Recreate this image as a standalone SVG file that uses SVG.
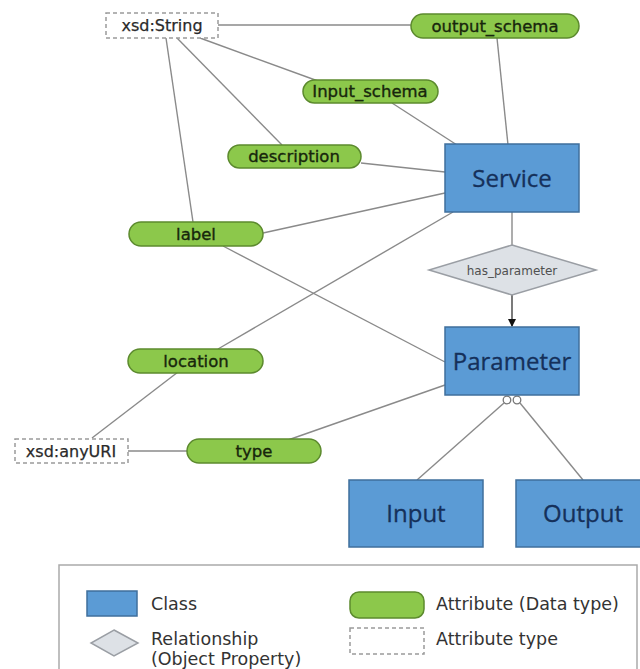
<svg xmlns="http://www.w3.org/2000/svg" width="640" height="669" viewBox="0 0 640 669">
  <defs>
    <style>
      .edge { stroke: #8a8a8a; stroke-width: 1.4; fill: none; }
      .cls rect { fill: #5b9bd5; stroke: #3f6f9c; stroke-width: 1.5; }
      .cls text { font-family: "Open Sans", "Noto Sans", sans-serif; font-size: 24px; fill: #15305a; stroke: #15305a; stroke-width: 0.3; text-anchor: middle; }
      .attr rect { fill: #8cc84b; stroke: #5c8a2e; stroke-width: 1.5; }
      .attr text { font-family: "DejaVu Sans", sans-serif; font-size: 16.5px; fill: #17260c; stroke: #17260c; stroke-width: 0.35; text-anchor: middle; }
      .dtype rect { fill: #ffffff; stroke: #9a9a9a; stroke-width: 1.5; stroke-dasharray: 4 3; }
      .dtype text { font-family: "DejaVu Sans", sans-serif; font-size: 16px; fill: #2a2a2a; stroke: #2a2a2a; stroke-width: 0.25; text-anchor: middle; }
      .rel polygon { fill: #dde1e6; stroke: #9a9ea4; stroke-width: 1.5; }
      .rel text { font-family: "DejaVu Sans", sans-serif; font-size: 12px; fill: #505050; text-anchor: middle; }
      .legend text { font-family: "DejaVu Sans", sans-serif; font-size: 17.5px; fill: #333333; }
    </style>
    <marker id="arrow" markerWidth="8" markerHeight="8" refX="7" refY="4" orient="auto" markerUnits="userSpaceOnUse">
      <path d="M0,0 L8,4 L0,8 Z" fill="#111111"/>
    </marker>
  </defs>

  <rect width="640" height="669" fill="#ffffff"/>

  <!-- connectors -->
  <g id="connectors">
    <line class="edge" x1="218" y1="25" x2="411" y2="25"/>
    <line class="edge" x1="200" y1="38" x2="318" y2="81"/>
    <line class="edge" x1="177" y1="38" x2="282" y2="145"/>
    <line class="edge" x1="166" y1="38" x2="193" y2="222"/>
    <line class="edge" x1="497" y1="38" x2="508" y2="145"/>
    <line class="edge" x1="392" y1="103" x2="457" y2="145"/>
    <line class="edge" x1="361" y1="163" x2="445" y2="172"/>
    <line class="edge" x1="263" y1="233" x2="445" y2="193"/>
    <line class="edge" x1="453" y1="212" x2="218" y2="349"/>
    <line class="edge" x1="223" y1="246" x2="445" y2="362"/>
    <line class="edge" x1="178" y1="372" x2="92" y2="438"/>
    <line class="edge" x1="128" y1="451" x2="187" y2="451"/>
    <line class="edge" x1="288" y1="440" x2="445" y2="385"/>
    <line class="edge" x1="512" y1="212" x2="512" y2="245"/>
    <line x1="512" y1="295" x2="512" y2="326" stroke="#222222" stroke-width="1.2" marker-end="url(#arrow)"/>
    <line class="edge" x1="504" y1="403" x2="417" y2="480"/>
    <line class="edge" x1="520" y1="403" x2="583" y2="480"/>
    <circle cx="507" cy="400" r="3.8" fill="#ffffff" stroke="#777777" stroke-width="1.3"/>
    <circle cx="517" cy="400" r="3.8" fill="#ffffff" stroke="#777777" stroke-width="1.3"/>
  </g>

  <!-- data types -->
  <g id="xsd-string" class="dtype">
    <rect x="106" y="13" width="112" height="25"/>
    <text x="162" y="31">xsd:String</text>
  </g>
  <g id="xsd-anyuri" class="dtype">
    <rect x="15" y="439" width="113" height="24"/>
    <text x="71" y="457">xsd:anyURI</text>
  </g>

  <!-- attributes -->
  <g id="output-schema" class="attr">
    <rect x="411" y="14" width="168" height="24" rx="12"/>
    <text x="495" y="32">output_schema</text>
  </g>
  <g id="input-schema" class="attr">
    <rect x="303" y="80" width="135" height="23" rx="11.5"/>
    <text x="370" y="97">Input_schema</text>
  </g>
  <g id="description" class="attr">
    <rect x="228" y="145" width="133" height="23" rx="11.5"/>
    <text x="294" y="162">description</text>
  </g>
  <g id="label" class="attr">
    <rect x="129" y="222" width="134" height="24" rx="12"/>
    <text x="196" y="240">label</text>
  </g>
  <g id="location" class="attr">
    <rect x="128" y="349" width="135" height="24" rx="12"/>
    <text x="196" y="367">location</text>
  </g>
  <g id="type" class="attr">
    <rect x="187" y="439" width="134" height="24" rx="12"/>
    <text x="254" y="457">type</text>
  </g>

  <!-- classes -->
  <g id="service" class="cls">
    <rect x="445" y="144" width="134" height="68"/>
    <text x="512" y="187">Service</text>
  </g>
  <g id="parameter" class="cls">
    <rect x="445" y="327" width="134" height="68"/>
    <text x="512" y="370">Parameter</text>
  </g>
  <g id="input" class="cls">
    <rect x="349" y="480" width="134" height="67"/>
    <text x="416" y="522">Input</text>
  </g>
  <g id="output" class="cls">
    <rect x="516" y="480" width="134" height="67"/>
    <text x="583" y="522">Output</text>
  </g>

  <!-- relationship -->
  <g id="has-parameter" class="rel">
    <polygon points="512,245 596,270 512,295 429,270"/>
    <text x="512" y="275">has_parameter</text>
  </g>

  <!-- legend -->
  <g id="legend" class="legend">
    <rect x="59" y="565" width="578" height="110" fill="#ffffff" stroke="#aaaaaa" stroke-width="1.5"/>
    <rect x="87" y="591" width="50" height="25" fill="#5b9bd5" stroke="#3f6f9c" stroke-width="1.5"/>
    <text x="151" y="610">Class</text>
    <polygon points="114,630 138,643 114,656 91,643" fill="#dde1e6" stroke="#9a9ea4" stroke-width="1.5"/>
    <text x="151" y="645">Relationship</text>
    <text x="151" y="665">(Object Property)</text>
    <rect x="350" y="592" width="74" height="26" rx="9" fill="#8cc84b" stroke="#5c8a2e" stroke-width="1.5"/>
    <text x="436" y="610">Attribute (Data type)</text>
    <rect x="350" y="628" width="74" height="26" fill="#ffffff" stroke="#9a9a9a" stroke-width="1.5" stroke-dasharray="4 3"/>
    <text x="436" y="645">Attribute type</text>
  </g>
</svg>
